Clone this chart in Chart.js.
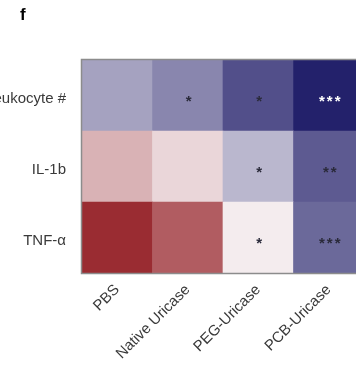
<!DOCTYPE html>
<html>
<head>
<meta charset="utf-8">
<script src="https://cdn.jsdelivr.net/npm/chart.js@4.4.1/dist/chart.umd.min.js"></script>
<style>
  html, body { margin: 0; padding: 0; background: #fff; overflow: hidden; }
  #wrap { position: relative; width: 356px; height: 367px; overflow: hidden; }
  #panel { position: absolute; left: 20px; top: 5px; font: bold 17px "Liberation Sans", Arial, sans-serif; color: #000; }
  canvas { position: absolute; left: 0; top: 0; }
</style>
</head>
<body>
<div id="wrap">
  <canvas id="c" width="366" height="367"></canvas>
  <div id="panel">f</div>
</div>
<script>
// Treatment groups along the x axis
const groups = ['PBS', 'Native Uricase', 'PEG-Uricase', 'PCB-Uricase'];
// Readouts, top row first
const readouts = ['Leukocyte #', 'IL-1b', 'TNF-α'];

// Relative level per readout (-1 = strongly reduced, +1 = strongly elevated)
const leukocyte = [-0.39, -0.52, -0.78, -1.0];
const il1b      = [0.33, 0.15, -0.29, -0.73];
const tnfa      = [1.0, 0.76, 0.04, -0.66];

// Significance marks vs PBS
const leukocyteSig = ['', '*', '*', '***'];
const il1bSig      = ['', '', '*', '**'];
const tnfaSig      = ['', '', '*', '***'];

const rows = [
  { name: readouts[0], values: leukocyte, sig: leukocyteSig },
  { name: readouts[1], values: il1b, sig: il1bSig },
  { name: readouts[2], values: tnfa, sig: tnfaSig }
];

// Diverging colour scale: blue – white – red
const WHITE = [248, 244, 246];
const RED = [154, 44, 50];
const BLUE = [35, 33, 107];
function colourFor(v) {
  const t = Math.min(1, Math.abs(v));
  const end = v >= 0 ? RED : BLUE;
  const c = WHITE.map((w, i) => Math.round(w + (end[i] - w) * t));
  return `rgb(${c[0]},${c[1]},${c[2]})`;
}

// Stack rows bottom-up so the first readout ends up on top
const stackOrder = rows.slice().reverse();
const datasets = stackOrder.map(r => ({
  label: r.name,
  data: r.values.map(() => 1),
  levels: r.values,
  marks: r.sig,
  backgroundColor: r.values.map(colourFor),
  borderWidth: 0,
  barPercentage: 1,
  categoryPercentage: 1
}));

const FONT = '"Liberation Sans", Arial, sans-serif';

const cellDecor = {
  id: 'cellDecor',
  afterDatasetsDraw(chart) {
    const ctx = chart.ctx;
    ctx.save();
    ctx.textAlign = 'center';
    ctx.textBaseline = 'middle';
    ctx.font = `bold 15px ${FONT}`;
    try { ctx.letterSpacing = '2px'; } catch (e) {}
    chart.data.datasets.forEach((ds, di) => {
      const meta = chart.getDatasetMeta(di);
      meta.data.forEach((bar, j) => {
        const mark = ds.marks[j];
        if (!mark) return;
        const cx = bar.x + 2;
        const cy = (bar.y + bar.base) / 2 + 6;
        ctx.fillStyle = Math.abs(ds.levels[j]) > 0.9 ? '#ffffff' : '#2a2a3a';
        ctx.fillText(mark, cx, cy);
      });
    });
    const a = chart.chartArea;
    ctx.strokeStyle = '#8c8c8c';
    ctx.lineWidth = 1.5;
    ctx.strokeRect(a.left - 0.5, a.top - 0.5, a.right - a.left + 1, a.bottom - a.top + 1);
    ctx.restore();
  }
};

new Chart(document.getElementById('c'), {
  type: 'bar',
  data: { labels: groups, datasets },
  options: {
    responsive: false,
    animation: false,
    layout: { padding: { top: 60, right: 2, left: 0, bottom: 0 } },
    plugins: { legend: { display: false }, tooltip: { enabled: false } },
    scales: {
      x: {
        stacked: true,
        grid: { display: false },
        border: { display: false },
        ticks: {
          color: '#3a3a3a',
          font: { family: FONT, size: 15 },
          minRotation: 45,
          maxRotation: 45,
          padding: 0
        },
        afterFit(scale) { scale.height = 94; }
      },
      y: {
        stacked: true,
        min: 0,
        max: 3,
        grid: { display: false },
        border: { display: false },
        afterBuildTicks(scale) {
          scale.ticks = [{ value: 0.5 }, { value: 1.5 }, { value: 2.5 }];
        },
        ticks: {
          color: '#3a3a3a',
          font: { family: FONT, size: 15 },
          padding: 8,
          labelOffset: 3,
          callback(value) { return stackOrder[Math.floor(value)].name; }
        },
        afterFit(scale) { scale.width = 82; }
      }
    }
  },
  plugins: [cellDecor]
});
</script>
</body>
</html>
